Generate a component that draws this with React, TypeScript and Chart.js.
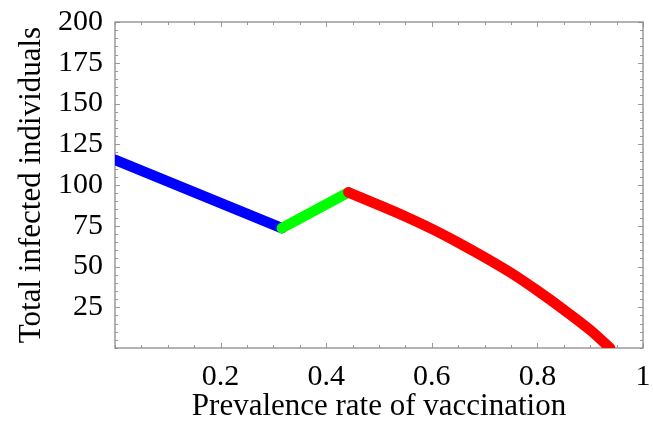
import React, { useEffect, useRef } from 'react';
import { Chart, registerables } from 'chart.js';

Chart.register(...registerables);

// Tick values / labels
const xTickValues = [0.2, 0.4, 0.6, 0.8, 1];
const xTickLabels = ['0.2', '0.4', '0.6', '0.8', '1'];
const yTickValues = [25, 50, 75, 100, 125, 150, 175, 200];
const xMinorStep = 0.05;
const yMinorStep = 5;

// Series
const blueX = [0, 0.316];
const blueY = [115.5, 73.5];
const greenX = [0.316, 0.442];
const greenY = [73.5, 95.5];
const redX = [0.442, 0.5, 0.55, 0.6, 0.65, 0.7, 0.75, 0.8, 0.85, 0.9, 0.9375];
const redY = [95.5, 87.7, 80.7, 73.1, 64.7, 55.7, 46.1, 35.2, 23.5, 11.0, 0];

const toPts = (xs: number[], ys: number[]) => xs.map((x, i) => ({ x, y: ys[i] }));

const FONT = '"Liberation Serif", "DejaVu Serif", serif';

const zeroPad = (s: any) => {
  s.paddingTop = 0;
  s.paddingBottom = 0;
  s.paddingLeft = 0;
  s.paddingRight = 0;
};

const framePlugin = {
  id: 'frameTicks',
  beforeDatasetsDraw(chart: any) {
    const { ctx, chartArea: a, scales } = chart;
    const xs = scales.x;
    const ys = scales.y;
    ctx.save();
    ctx.strokeStyle = '#9a9a9a';
    ctx.lineWidth = 1;
    ctx.beginPath();
    for (let v = 0; v <= 1.0001; v += xMinorStep) {
      const px = Math.round(xs.getPixelForValue(v)) + 0.5;
      const major = xTickValues.some((t) => Math.abs(t - v) < 1e-6);
      const len = major ? 5 : 3;
      ctx.moveTo(px, a.bottom);
      ctx.lineTo(px, a.bottom - len);
      ctx.moveTo(px, a.top);
      ctx.lineTo(px, a.top + len);
    }
    for (let v = 0; v <= 200.0001; v += yMinorStep) {
      const py = Math.round(ys.getPixelForValue(v)) + 0.5;
      const major = yTickValues.some((t) => Math.abs(t - v) < 1e-6);
      const len = major ? 5 : 3;
      ctx.moveTo(a.left, py);
      ctx.lineTo(a.left + len, py);
      ctx.moveTo(a.right, py);
      ctx.lineTo(a.right - len, py);
    }
    ctx.stroke();
    ctx.strokeStyle = '#8c8c8c';
    ctx.lineWidth = 1.3;
    ctx.strokeRect(a.left, a.top, a.right - a.left, a.bottom - a.top);
    ctx.restore();
  },
};

export default function App() {
  const ref = useRef<HTMLCanvasElement | null>(null);

  useEffect(() => {
    document.body.style.margin = '0';
    const canvas = ref.current;
    if (!canvas) return;
    const lineCommon = {
      borderWidth: 10.5,
      borderCapStyle: 'round' as const,
      borderJoinStyle: 'round' as const,
      pointRadius: 0,
      fill: false,
    };
    const chart = new Chart(canvas, {
      type: 'line',
      data: {
        datasets: [
          { ...lineCommon, label: 'blue', data: toPts(blueX, blueY), borderColor: '#0000ff', order: 3 },
          { ...lineCommon, label: 'green', data: toPts(greenX, greenY), borderColor: '#00ff00', order: 2 },
          {
            ...lineCommon,
            label: 'red',
            data: toPts(redX, redY),
            borderColor: '#ff0000',
            order: 1,
            cubicInterpolationMode: 'monotone' as const,
          },
        ],
      },
      options: {
        animation: false,
        responsive: false,
        devicePixelRatio: 1,
        layout: { padding: { top: 22, right: 10, left: 0, bottom: 0 } },
        plugins: { legend: { display: false }, tooltip: { enabled: false } },
        scales: {
          x: {
            type: 'linear',
            min: 0,
            max: 1,
            grid: { display: false, drawTicks: false },
            border: { display: false },
            afterBuildTicks: (s: any) => {
              s.ticks = xTickValues.map((v) => ({ value: v }));
            },
            afterFit: (s: any) => {
              s.height = 79;
              zeroPad(s);
            },
            ticks: {
              padding: 11,
              color: '#000',
              font: { family: FONT, size: 30 },
              maxRotation: 0,
              autoSkip: false,
              callback: (v: any) => {
                const i = xTickValues.findIndex((t) => Math.abs(t - Number(v)) < 1e-6);
                return i >= 0 ? xTickLabels[i] : '';
              },
            },
            title: {
              display: true,
              text: 'Prevalence rate of vaccination',
              color: '#000',
              font: { family: FONT, size: 31 },
              padding: { top: 0, bottom: 2 },
            },
          },
          y: {
            type: 'linear',
            min: 0,
            max: 200,
            grid: { display: false, drawTicks: false },
            border: { display: false },
            afterBuildTicks: (s: any) => {
              s.ticks = yTickValues.map((v) => ({ value: v }));
            },
            afterFit: (s: any) => {
              s.width = 115;
              zeroPad(s);
            },
            ticks: {
              padding: 12,
              color: '#000',
              font: { family: FONT, size: 30 },
              autoSkip: false,
              callback: (v: any) => String(v),
            },
            title: {
              display: true,
              text: 'Total infected individuals',
              color: '#000',
              font: { family: FONT, size: 31 },
              padding: { top: 13, bottom: 0 },
            },
          },
        },
      },
      plugins: [framePlugin],
    });
    return () => chart.destroy();
  }, []);

  return (
    <div style={{ width: 653, height: 427, background: '#fff' }}>
      <canvas ref={ref} width={653} height={427} style={{ width: 653, height: 427, display: 'block' }} />
    </div>
  );
}
